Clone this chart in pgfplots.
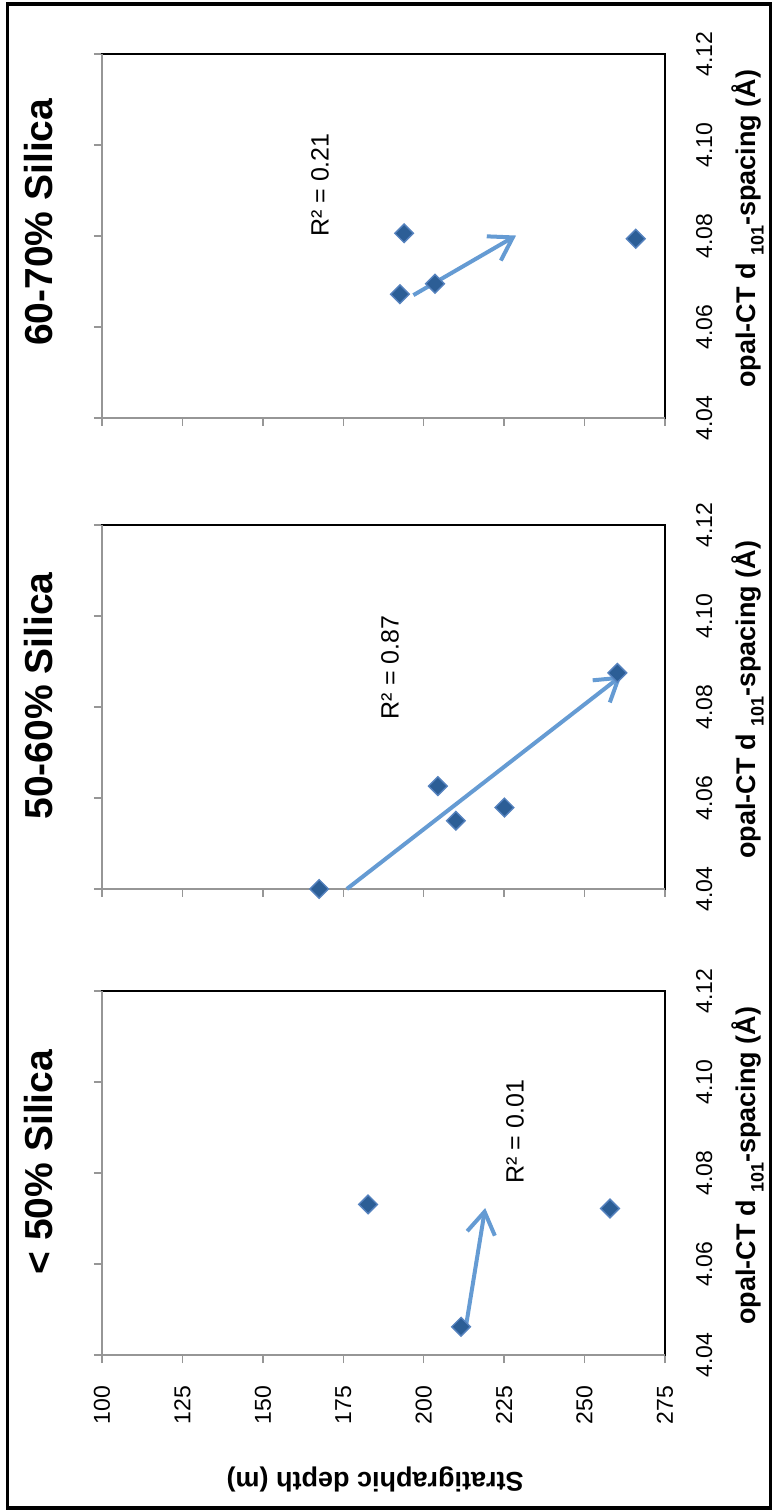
\documentclass[border=0pt]{standalone}
\usepackage{fontspec}
\setmainfont{Liberation Sans}
\usepackage{pgfplots}
\pgfplotsset{compat=1.18}
\usetikzlibrary{arrows.meta}
\definecolor{axgray}{RGB}{150,150,150}
\definecolor{mk}{RGB}{44,94,150}
\definecolor{mkedge}{RGB}{85,130,190}
\definecolor{arr}{RGB}{101,155,211}

\pgfplotsset{
 panel/.style={
  scale only axis, width=281.5pt, height=182pt,
  anchor=south west,
  xmin=100,xmax=275,ymin=4.04,ymax=4.12,
  clip=false,
  xtick={100,125,150,175,200,225,250,275},
  ytick={4.04,4.06,4.08,4.10,4.12},
  tick align=outside, major tick length=4pt,
  xtick pos=bottom, ytick pos=left, yticklabel pos=right,
  tick style={draw=axgray, line width=0.75pt},
  axis line style={draw=black, line width=0.8pt},
  /pgf/number format/assume math mode=true,
  xticklabel style={rotate=90, anchor=east, font=\fontsize{11.5}{12}\selectfont},
  yticklabel style={rotate=90, anchor=north, font=\fontsize{11.5}{12}\selectfont,
    /pgf/number format/fixed, /pgf/number format/fixed zerofill, /pgf/number format/precision=2},
  xticklabel shift=8pt, yticklabel shift=8pt,
 },
 pts/.style={only marks, mark=square*, mark size=3.3pt,
   mark options={rotate=45, fill=mk, draw=mkedge, line width=0.7pt}},
 arrw/.style={arr, line width=2pt, -{Straight Barb[length=11pt, width=14pt]}},
}
\tikzset{
 ttl/.style={rotate=90, font=\bfseries\fontsize{19.5}{22}\selectfont},
 olab/.style={rotate=90, font=\bfseries\fontsize{13.5}{15}\selectfont},
 rlab/.style={rotate=90, font=\fontsize{12.5}{14}\selectfont},
}

\newcommand{\opal}{opal-CT d \raisebox{-0.3em}{\fontsize{9}{9}\selectfont 101}-spacing (Å)}

\begin{document}
\begin{tikzpicture}
\useasboundingbox (0,0) rectangle (386.5pt,755pt);
\draw[black, line width=1.6pt] (3.8pt,1pt) rectangle (385.2pt,753pt);

% panel 1 (< 50%)
\begin{axis}[panel, at={(51pt,77.5pt)}]
\draw[axgray, line width=0.8pt] (rel axis cs:0,1) -- (rel axis cs:0,0) -- (rel axis cs:1,0);
\addplot[pts] coordinates {(182.7,4.0731) (257.9,4.0722) (211.6,4.0462)};
\addplot[arrw] coordinates {(213.1,4.0462) (219.1,4.0723)};
\node[rlab] at (axis cs:228.4,4.0891) {R² = 0.01};
\node[ttl] at (rel axis cs:-0.112,0.53) {< 50\% Silica};
\node[olab] at (rel axis cs:1.147,0.52) {\opal};
\node[rotate=180, font=\bfseries\fontsize{13.5}{15}\selectfont] at (rel axis cs:0.485,-0.343) {Stratigraphic depth (m)};
\end{axis}

% panel 2 (50-60%)
\begin{axis}[panel, at={(51pt,310.5pt)}, xticklabels={}]
\draw[axgray, line width=0.8pt] (rel axis cs:0,1) -- (rel axis cs:0,0) -- (rel axis cs:1,0);
\addplot[pts] coordinates {(167.5,4.0400) (204.4,4.0626) (210.0,4.0550) (225.1,4.0579) (260.2,4.0875)};
\addplot[arrw] coordinates {(176.1,4.0400) (261.5,4.0869)};
\node[rlab] at (axis cs:189.5,4.0887) {R² = 0.87};
\node[ttl] at (rel axis cs:-0.112,0.53) {50-60\% Silica};
\node[olab] at (rel axis cs:1.147,0.52) {\opal};
\end{axis}

% panel 3 (60-70%)
\begin{axis}[panel, at={(51pt,546pt)}, xticklabels={}]
\draw[axgray, line width=0.8pt] (rel axis cs:0,1) -- (rel axis cs:0,0) -- (rel axis cs:1,0);
\addplot[pts] coordinates {(193.9,4.0806) (192.6,4.0672) (203.5,4.0695) (265.9,4.0794)};
\addplot[arrw] coordinates {(196.8,4.0670) (228.7,4.0801)};
\node[rlab] at (axis cs:167.8,4.0912) {R² = 0.21};
\node[ttl] at (rel axis cs:-0.112,0.538) {60-70\% Silica};
\node[olab] at (rel axis cs:1.147,0.52) {\opal};
\end{axis}
\end{tikzpicture}
\end{document}
